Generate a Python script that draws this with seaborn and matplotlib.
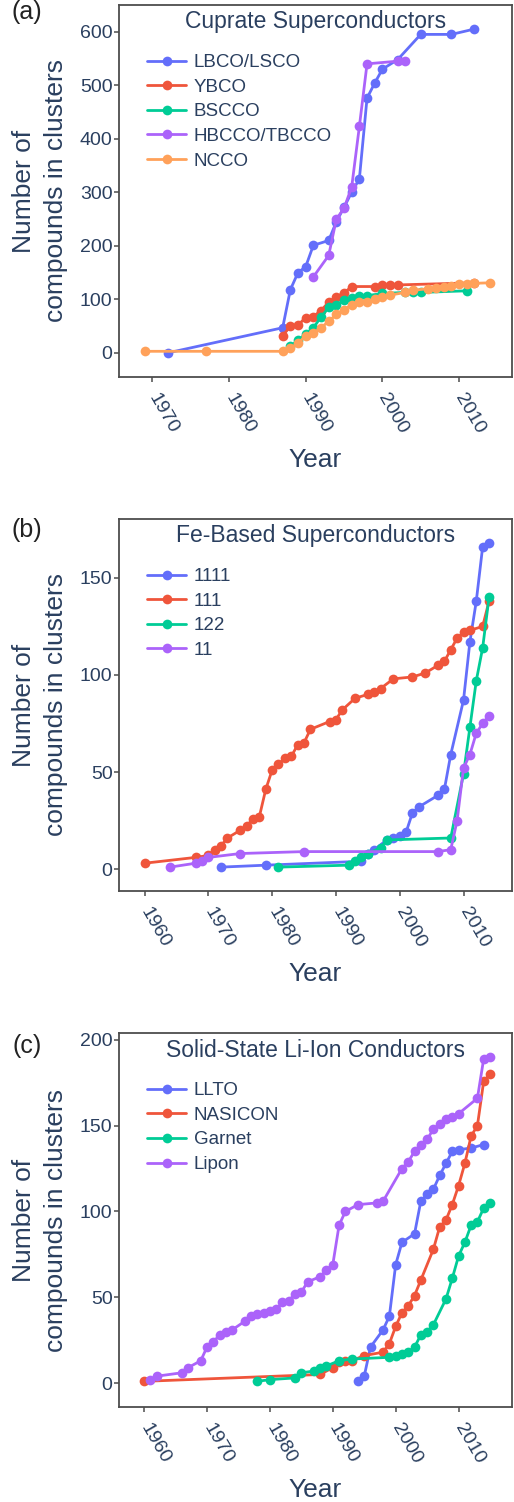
import numpy as np
import pandas as pd
import matplotlib
matplotlib.use("Agg")
import matplotlib.pyplot as plt
from matplotlib.lines import Line2D
import seaborn as sns

# ---------------- data ----------------
# (a) cuprates
lbco_yr = [1972, 1987, 1988, 1989, 1990, 1991, 1993, 1994, 1995, 1996, 1997, 1998, 1999, 2000, 2002, 2005, 2009, 2012]
lbco_n = [0, 47, 118, 150, 161, 201, 210, 245, 272, 300, 325, 476, 504, 530, 548, 595, 595, 605]
ybco_yr = [1987, 1988, 1989, 1990, 1991, 1992, 1993, 1994, 1995, 1996, 1999, 2000, 2001, 2002, 2012]
ybco_n = [32, 50, 52, 66, 68, 79, 95, 105, 112, 124, 124, 126, 127, 127, 131]
bscco_yr = [1988, 1989, 1990, 1991, 1992, 1993, 1994, 1995, 1996, 1997, 1998, 2000, 2003, 2004, 2005, 2011]
bscco_n = [12, 24, 35, 47, 67, 85, 90, 98, 102, 106, 107, 111, 113, 113, 113, 116]
hbcco_yr = [1991, 1993, 1994, 1995, 1996, 1997, 1998, 2002, 2003]
hbcco_n = [142, 182, 250, 270, 310, 423, 540, 545, 545]
ncco_yr = [1969, 1977, 1987, 1988, 1989, 1990, 1991, 1992, 1993, 1994, 1995, 1996, 1997, 1998, 1999, 2000,
           2001, 2003, 2004, 2006, 2007, 2008, 2009, 2010, 2011, 2012, 2014]
ncco_n = [3, 3, 3, 9, 18, 32, 37, 47, 59, 72, 81, 90, 95, 96, 100, 104,
          108, 113, 117, 120, 122, 124, 125, 128, 129, 130, 131]

# (b) Fe-based
fe1111_yr = [1972, 1979, 1994, 1995, 1996, 1998, 1999, 2000, 2001, 2002, 2003, 2006, 2007, 2008, 2010, 2011, 2012, 2013, 2014]
fe1111_n = [1, 2, 4, 8, 10, 15, 16, 17, 19, 29, 32, 38, 41, 59, 87, 117, 138, 166, 168]
fe111_yr = [1960, 1968, 1970, 1971, 1972, 1973, 1975, 1976, 1977, 1978, 1979, 1980, 1981, 1982, 1983, 1984, 1985, 1986,
            1989, 1990, 1991, 1993, 1995, 1996, 1997, 1999, 2002, 2004, 2006, 2007, 2008, 2009, 2010, 2011, 2013, 2014]
fe111_n = [3, 6, 7, 10, 12, 16, 20, 22, 26, 27, 41, 51, 54, 57, 58, 64, 65, 72,
           76, 77, 82, 88, 90, 91, 93, 98, 99, 101, 105, 107, 113, 119, 122, 123, 125, 138]
fe122_yr = [1981, 1992, 1993, 1994, 1995, 1997, 1998, 2008, 2010, 2011, 2012, 2013, 2014]
fe122_n = [1, 2, 4, 6, 8, 11, 15, 16, 49, 73, 97, 114, 140]
fe11_yr = [1964, 1968, 1969, 1970, 1975, 1985, 2006, 2008, 2009, 2010, 2011, 2012, 2013, 2014]
fe11_n = [1, 3, 4, 6, 8, 9, 9, 10, 25, 52, 59, 70, 75, 79]

# (c) Li-ion conductors
llto_yr = [1994, 1995, 1996, 1998, 1999, 2000, 2001, 2003, 2004, 2005, 2006, 2007, 2008, 2009, 2010, 2012, 2014]
llto_n = [1, 4, 21, 31, 39, 69, 82, 87, 106, 110, 113, 121, 128, 135, 136, 137, 139]
nasicon_yr = [1960, 1988, 1990, 1991, 1992, 1993, 1995, 1998, 1999, 2000, 2001, 2002, 2003, 2004, 2006, 2007, 2008,
              2009, 2010, 2011, 2012, 2013, 2014, 2015]
nasicon_n = [1, 5, 9, 12, 13, 13, 16, 18, 23, 33, 41, 45, 51, 60, 78, 91, 95,
             104, 115, 128, 144, 150, 176, 180]
garnet_yr = [1978, 1980, 1984, 1985, 1987, 1988, 1989, 1991, 1993, 1999, 2000, 2001, 2002, 2003, 2004, 2005, 2006,
             2008, 2009, 2010, 2011, 2012, 2013, 2014, 2015]
garnet_n = [1, 2, 3, 6, 7, 9, 10, 13, 14, 15, 16, 17, 18, 21, 28, 30, 34,
            49, 61, 74, 82, 92, 94, 102, 105]
lipon_yr = [1961, 1962, 1966, 1967, 1969, 1970, 1971, 1972, 1973, 1974, 1976, 1977, 1978, 1979, 1980, 1981, 1982,
            1983, 1984, 1985, 1986, 1988, 1989, 1990, 1991, 1992, 1994, 1997, 1998, 2001, 2002, 2003, 2004, 2005,
            2006, 2007, 2008, 2009, 2010, 2013, 2014, 2015]
lipon_n = [2, 4, 6, 9, 13, 21, 24, 28, 30, 31, 36, 39, 40, 41, 42, 43, 47,
           48, 52, 53, 59, 62, 66, 69, 92, 100, 104, 105, 106, 125, 129, 135, 139, 142,
           148, 151, 154, 155, 157, 166, 189, 190]

BLUE, RED, GREEN, PURPLE, ORANGE = "#636EFA", "#EF553B", "#00CC96", "#AB63FA", "#FFA15A"
TXT = "#2a3f5f"
MS, LW = 7, 2.0

sns.set_style("ticks")
plt.rcParams["font.family"] = ["Liberation Sans", "DejaVu Sans"]


def to_long(series):
    rows = []
    for name, (yrs, vals) in series.items():
        for y, v in zip(yrs, vals):
            rows.append((name, y, v))
    return pd.DataFrame(rows, columns=["series", "year", "count"])


def panel(ax, series, colors, title, xlim, ylim, xticks, yticks, h_px):
    df = to_long(series)
    order = list(series.keys())
    pal = dict(zip(order, colors))
    sns.lineplot(data=df, x="year", y="count", hue="series", hue_order=order, palette=pal,
                 marker="o", markersize=MS, markeredgewidth=0, linewidth=LW,
                 estimator=None, sort=False, legend=False, ax=ax)
    ax.set_xlim(*xlim)
    ax.set_ylim(*ylim)
    ax.set_xticks(xticks)
    ax.set_yticks(yticks)
    ax.set_xlabel("")
    ax.set_ylabel("")
    for s in ax.spines.values():
        s.set_color("#4d4d4d")
        s.set_linewidth(1.3)
    ax.tick_params(axis="both", colors="#4d4d4d", labelcolor=TXT, labelsize=14, length=3.6, width=1.1)
    ax.tick_params(axis="y", pad=1)
    ax.tick_params(axis="x", pad=9)
    plt.setp(ax.get_xticklabels(), rotation=-60, ha="left", va="center", rotation_mode="anchor")
    ax.text(0.5, 1 - 17 / h_px, title, transform=ax.transAxes, ha="center", va="center",
            fontsize=16.5, color=TXT)
    ax.text(0.5, -83 / h_px, "Year", transform=ax.transAxes, ha="center", va="center",
            fontsize=19, color=TXT)
    ax.text(-0.201, 0.5, "Number of\ncompounds in clusters", transform=ax.transAxes, rotation=90,
            ha="center", va="center", fontsize=19, color=TXT, linespacing=1.45)
    handles = [Line2D([], [], color=c, marker="o", markersize=MS, markeredgewidth=0, linewidth=LW)
               for c in colors]
    ax.legend(handles, order, loc="upper left", bbox_to_anchor=(0.071, 1 - 49 / h_px), frameon=False,
              fontsize=13.5, handlelength=2.1, handletextpad=0.4, labelspacing=0.4,
              borderpad=0, borderaxespad=0, labelcolor=TXT)


fig = plt.figure(figsize=(5.14, 15.02), dpi=100)
ax_a = fig.add_axes([0.2315, 0.7490, 0.7646, 0.2477])
ax_b = fig.add_axes([0.2315, 0.4068, 0.7646, 0.2477])
ax_c = fig.add_axes([0.2315, 0.0632, 0.7646, 0.2490])

panel(ax_a, {"LBCO/LSCO": (lbco_yr, lbco_n), "YBCO": (ybco_yr, ybco_n), "BSCCO": (bscco_yr, bscco_n),
             "HBCCO/TBCCO": (hbcco_yr, hbcco_n), "NCCO": (ncco_yr, ncco_n)},
      [BLUE, RED, GREEN, PURPLE, ORANGE], "Cuprate Superconductors",
      (1965.66, 2016.9), (-45, 650), [1970, 1980, 1990, 2000, 2010], [0, 100, 200, 300, 400, 500, 600], 372)

panel(ax_b, {"1111": (fe1111_yr, fe1111_n), "111": (fe111_yr, fe111_n), "122": (fe122_yr, fe122_n),
             "11": (fe11_yr, fe11_n)},
      [BLUE, RED, GREEN, PURPLE], "Fe-Based Superconductors",
      (1956.0, 2017.6), (-11.3, 180.4), [1960, 1970, 1980, 1990, 2000, 2010], [0, 50, 100, 150], 372)

panel(ax_c, {"LLTO": (llto_yr, llto_n), "NASICON": (nasicon_yr, nasicon_n), "Garnet": (garnet_yr, garnet_n),
             "Lipon": (lipon_yr, lipon_n)},
      [BLUE, RED, GREEN, PURPLE], "Solid-State Li-Ion Conductors",
      (1956.0, 2018.5), (-14, 204), [1960, 1970, 1980, 1990, 2000, 2010], [0, 50, 100, 150, 200], 374)

for lab, ypx in [("(a)", 12), ("(b)", 530), ("(c)", 1046)]:
    fig.text(27 / 514, 1 - ypx / 1502, lab, ha="center", va="center", fontsize=18, color="#222222")

fig.savefig("out.png", dpi=100)
